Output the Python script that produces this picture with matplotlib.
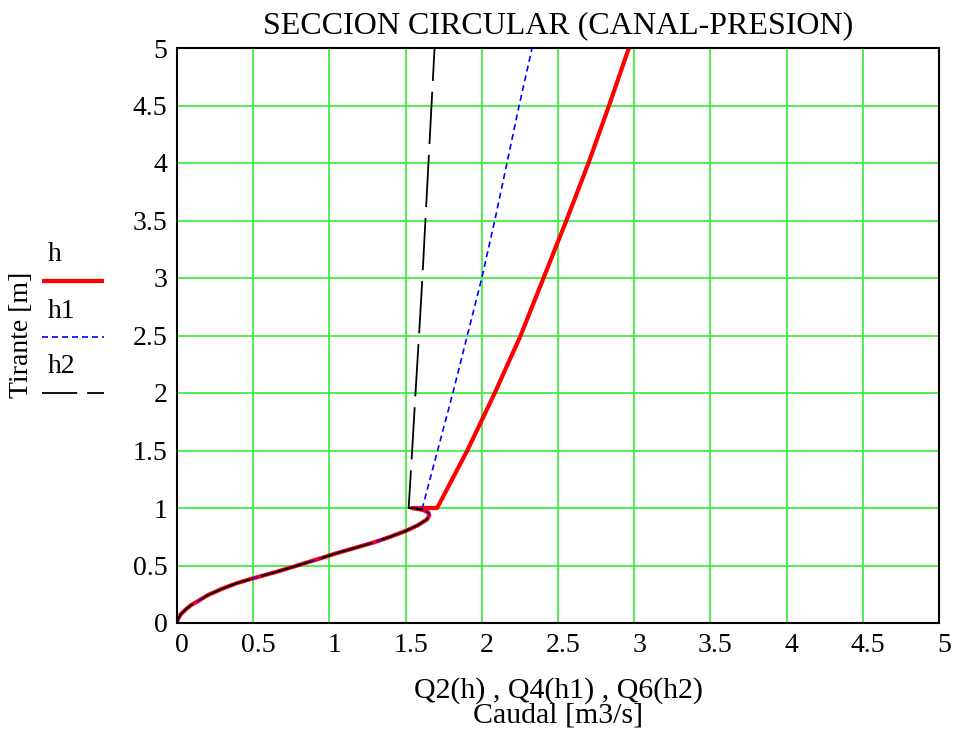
import numpy as np
import matplotlib
matplotlib.use('Agg')
import matplotlib.pyplot as plt
from matplotlib.lines import Line2D
from matplotlib.ticker import MultipleLocator, FuncFormatter
import matplotlib.transforms as mtransforms

#1.) data
# partially full section (common to the three curves)
h_canal = [0.0, 0.01, 0.02, 0.035, 0.05, 0.078, 0.1, 0.13, 0.155, 0.2,
           0.241, 0.3, 0.345, 0.385, 0.44, 0.5, 0.566, 0.6, 0.65, 0.7,
           0.75, 0.8, 0.85, 0.9, 0.936, 0.96, 0.98, 0.99, 1.0]
q_canal = [0.0, 0.0006, 0.003, 0.007, 0.013, 0.026, 0.043, 0.068, 0.092, 0.15,
           0.20, 0.30, 0.39, 0.49, 0.64, 0.79, 0.95, 1.03, 1.16, 1.29,
           1.40, 1.50, 1.58, 1.64, 1.655, 1.65, 1.62, 1.59, 1.54]

# pressure flow (h >= 1)
h_pres = [1.0, 1.5, 2.0, 2.5, 3.0, 3.5, 4.0, 4.5, 5.0]
q2_pres = [1.707, 1.905, 2.085, 2.255, 2.405, 2.555, 2.70, 2.835, 2.965]
q4_pres = [1.61, 1.71, 1.81, 1.905, 2.0, 2.085, 2.165, 2.245, 2.33]
q6_pres = [1.52, 1.543, 1.565, 1.588, 1.61, 1.63, 1.65, 1.67, 1.69]

series_names = ['h', 'h1', 'h2']

#2.) figure
plt.rcParams['font.family'] = ['Liberation Serif', 'DejaVu Serif']
fig = plt.figure(figsize=(9.55, 7.31), dpi=100)
ax = fig.add_axes([177/955, 1 - 623/731, (939 - 177)/955, (623 - 48)/731])

#3.) curves
styles = [dict(color='#ff0000', lw=3.0, solid_capstyle='butt'),
          dict(color='#0000ff', lw=1.2, dashes=(3.6, 2.4)),
          dict(color='black', lw=1.3, linestyle=(15, (29, 6)))]
h_all = np.array(h_canal + h_pres)
q_all = [q_canal + q2_pres, q_canal + q4_pres, q_canal + q6_pres]
for i in range(3):
    ax.plot(q_all[i], h_all, zorder=3 + i, **styles[i])

#4.) axes look
ax.set_xlim(0, 5)
ax.set_ylim(0, 5)
ax.xaxis.set_major_locator(MultipleLocator(0.5))
ax.yaxis.set_major_locator(MultipleLocator(0.5))
fmt = FuncFormatter(lambda v, p: '%g' % v)
ax.xaxis.set_major_formatter(fmt)
ax.yaxis.set_major_formatter(fmt)
ax.grid(True, color='#33ee33', lw=1.2, zorder=1)
ax.set_axisbelow(True)
ax.tick_params(length=0, labelsize=20, pad=7)
for sp in ax.spines.values():
    sp.set_color('black')
    sp.set_linewidth(1.5)
    sp.set_zorder(6)

# Mathcad puts the x labels slightly to the right
offset = mtransforms.ScaledTranslation(5/100, 0, fig.dpi_scale_trans)
for lab in ax.get_xticklabels():
    lab.set_transform(lab.get_transform() + offset)

ax.set_title('SECCION CIRCULAR (CANAL-PRESION)', fontsize=23, pad=11)
ax.set_xlabel('Q2(h) , Q4(h1) , Q6(h2)\nCaudal [m3/s]', fontsize=21.5,
              labelpad=14, linespacing=0.9)
fig.text(22/955, 1 - 335/731, 'Tirante [m]', rotation=90, fontsize=20,
         ha='center', va='center')

#5.) legend on the left, label above line sample
leg_styles = [dict(styles[0]), dict(styles[1]),
              dict(color='black', lw=1.3, dashes=(19.5, 5.5))]
for i, name in enumerate(series_names):
    y_txt = 1 - (255 + 56*i)/731
    y_line = 1 - (281 + 56*i)/731
    fig.text(48/955, y_txt, name, fontsize=20, ha='left', va='center')
    fig.add_artist(Line2D([42/955, 104/955], [y_line, y_line],
                          transform=fig.transFigure, **leg_styles[i]))

fig.savefig('out.png', dpi=100)
